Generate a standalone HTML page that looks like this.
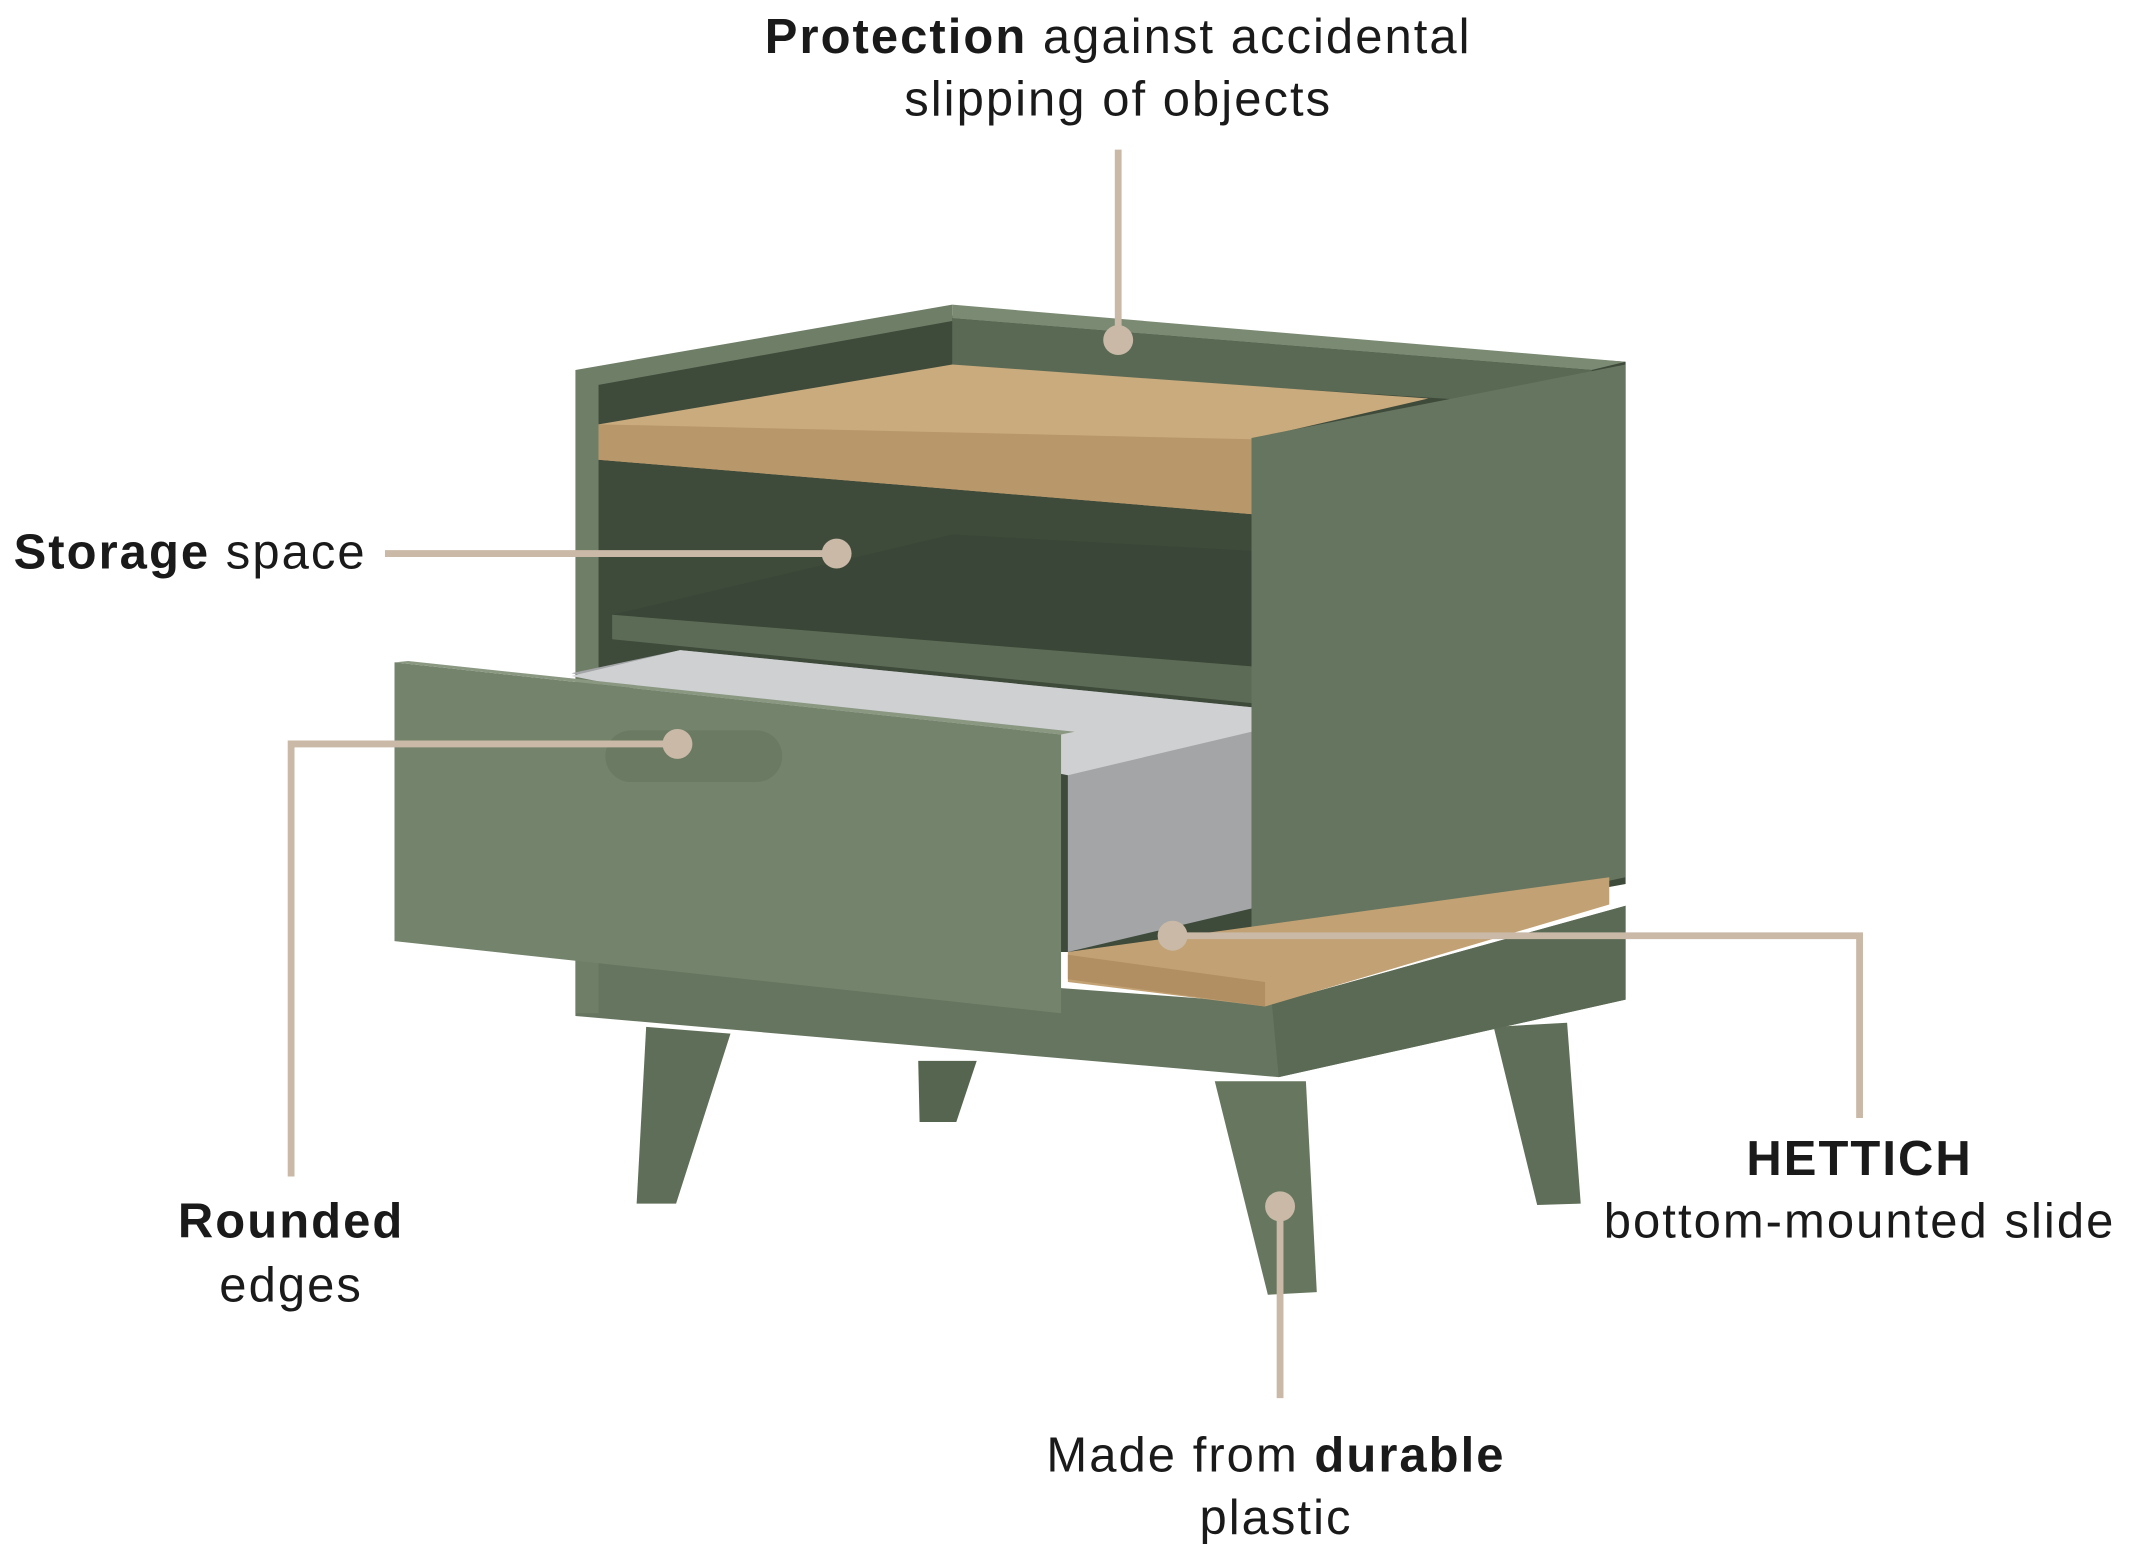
<!DOCTYPE html>
<html><head><meta charset="utf-8"><style>
html,body{margin:0;padding:0;background:#fff}
svg{display:block}
text{font-family:"Liberation Sans",sans-serif;font-size:36px;letter-spacing:1.5px;fill:#1a1a1a}
.b{font-weight:bold}
</style></head><body>
<svg width="2133" height="1560" viewBox="0 0 1568 1147" preserveAspectRatio="none" xmlns="http://www.w3.org/2000/svg">
<rect width="1568" height="1147" fill="#fff"/>
<!-- legs -->
<polygon points="475,755 537,760 497,885 468,885" fill="#5f6e58"/>
<polygon points="675,780 718,780 703,825 676,825" fill="#56654f"/>
<polygon points="1098,755 1152,752 1162,885 1130,886" fill="#5f6e58"/>
<polygon points="893,795 960,795 968,950 932,952" fill="#67775f"/>
<!-- base plinth -->
<polygon points="423,700 935,738 1195,666 1195,735 940,792 423,747" fill="#66755f"/>
<polygon points="935,738 1195,666 1195,735 940,792" fill="#5b6a55"/>
<!-- cavity -->
<polygon points="438,283 700,232 1195,266 1195,650 920,700 438,700" fill="#3e4a3a"/>
<!-- back panel top -->
<polygon points="700,224 1195,266 1170,272 700,234" fill="#7b8a73"/>
<polygon points="700,234 1170,272 1170,300 700,270" fill="#5a6954"/>
<!-- left panel -->
<polygon points="423,272 700,224 700,236 440,283 440,745 423,745" fill="#6f7e67"/>
<!-- wood top -->
<polygon points="440,312 700,268 1050,293 920,323 920,378 440,338" fill="#c9ab7e"/>
<polygon points="440,312 920,323 920,378 440,338" fill="#b8976a"/>
<!-- middle shelf -->
<polygon points="450,452 700,393 920,405 920,490" fill="#3a4637"/>
<polygon points="450,452 920,490 920,517 450,470" fill="#5c6b56"/>
<!-- right panel -->
<polygon points="920,322 1195,268 1195,645 935,700 920,700" fill="#66755f"/>
<!-- wood strip -->
<polygon points="785,700 1183,645 1183,665 930,740 785,722" fill="#c2a274"/>
<polygon points="785,720 930,740 930,722 785,702" fill="#b28f62"/>
<!-- drawer interior -->
<polygon points="420,495 500,478 920,520 920,668 785,700 785,560" fill="#a3a5a7"/>
<polygon points="500,478 920,520 920,538 785,570 420,497" fill="#cfd0d2"/>
<!-- drawer front -->
<polygon points="290,487 780,540 780,745 290,692" fill="#74836c"/>
<polygon points="290,487 300,486 790,538 780,540" fill="#8a9882"/>
<rect x="445" y="537" width="130" height="38" rx="19" fill="#6b7a63"/>
<!-- callout lines -->
<g stroke="#c9b9a6" stroke-width="5" fill="none">
<line x1="822" y1="110" x2="822" y2="250"/>
<line x1="283" y1="407" x2="615" y2="407"/>
<polyline points="498,547 214,547 214,865"/>
<polyline points="862,688 1367,688 1367,822"/>
<line x1="941" y1="887" x2="941" y2="1028"/>
</g>
<g fill="#c9b9a6">
<circle cx="822" cy="250" r="11"/><circle cx="615" cy="407" r="11"/>
<circle cx="498" cy="547" r="11"/><circle cx="862" cy="688" r="11"/>
<circle cx="941" cy="887" r="11"/>
</g>
<!-- labels -->
<text x="822" y="39" text-anchor="middle"><tspan class="b">Protection</tspan> against accidental</text>
<text x="822" y="85" text-anchor="middle">slipping of objects</text>
<text x="10" y="418"><tspan class="b">Storage</tspan> space</text>
<text x="214" y="910" text-anchor="middle" class="b">Rounded</text>
<text x="214" y="957" text-anchor="middle">edges</text>
<text x="1367" y="864" text-anchor="middle" class="b">HETTICH</text>
<text x="1367" y="910" text-anchor="middle">bottom-mounted slide</text>
<text x="938" y="1082" text-anchor="middle">Made from <tspan class="b">durable</tspan></text>
<text x="938" y="1128" text-anchor="middle">plastic</text>
</svg>
</body></html>
